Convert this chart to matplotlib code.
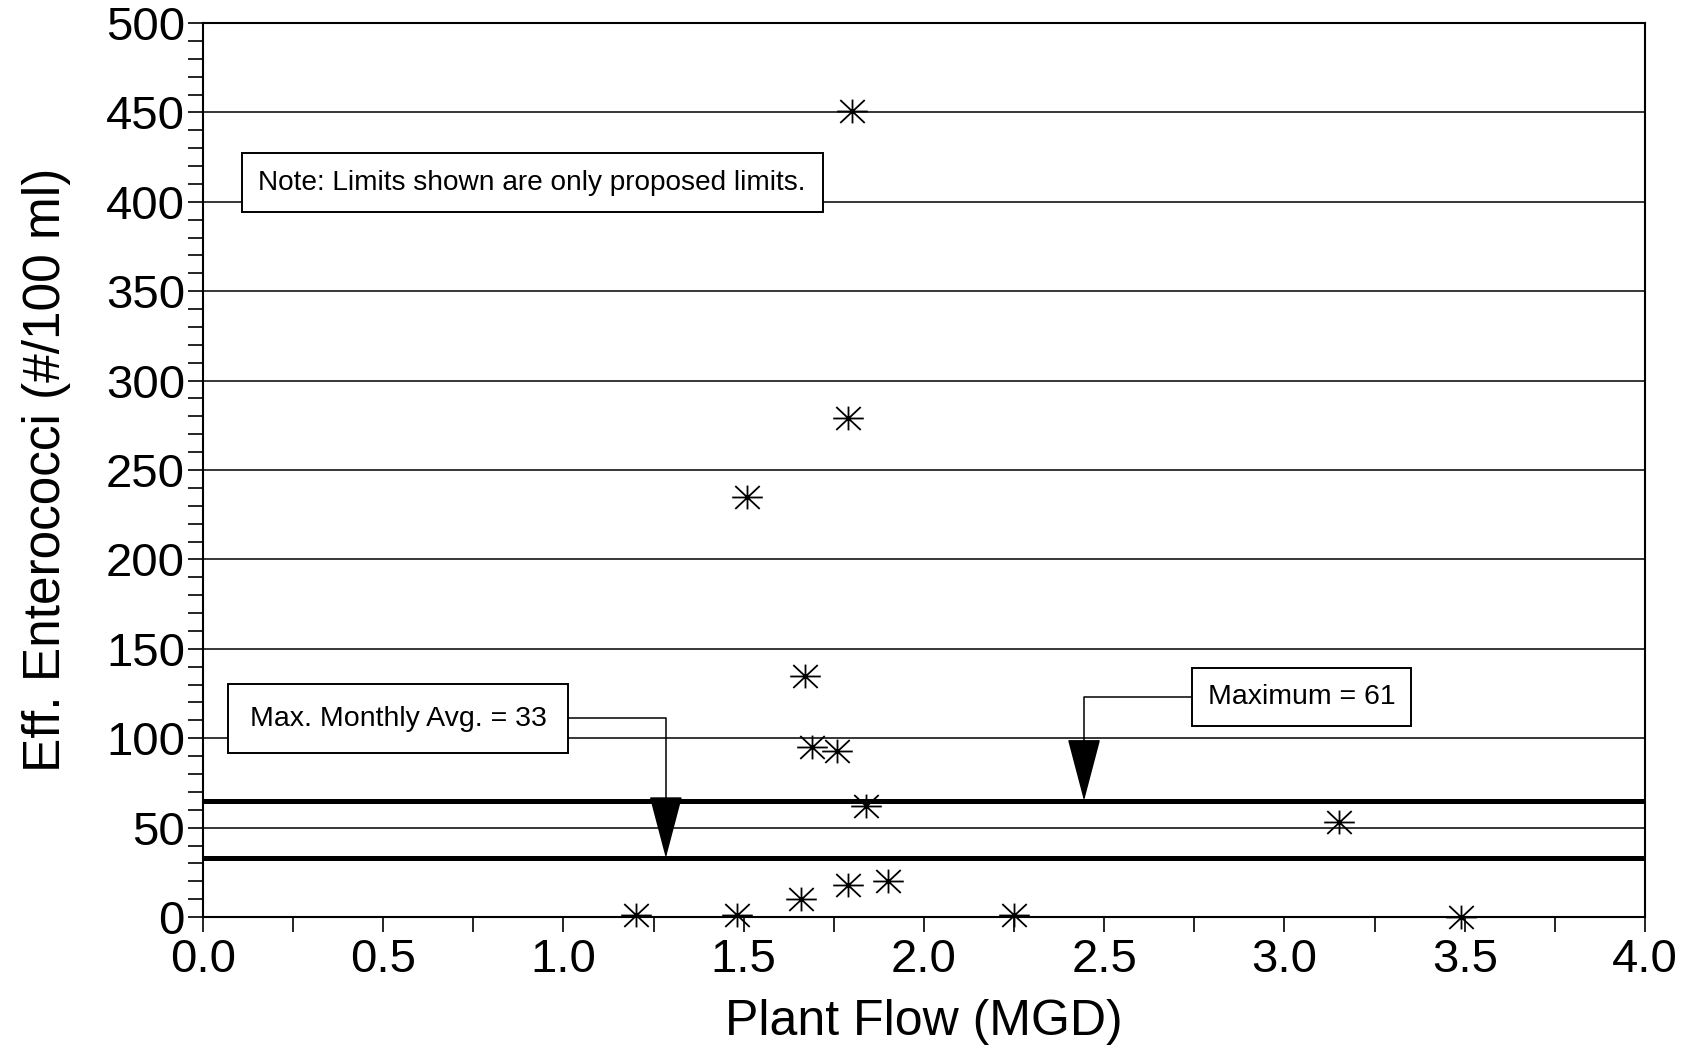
import numpy as np
import matplotlib
matplotlib.use("Agg")
import matplotlib.pyplot as plt
from matplotlib.ticker import MultipleLocator, FormatStrFormatter
from matplotlib.path import Path

plt.rcParams['font.family'] = ['Liberation Sans', 'DejaVu Sans']

# Données
flow = [1.20, 1.48, 1.66, 1.79, 1.90, 1.84, 1.69, 1.76, 1.67, 1.51, 1.79, 1.80, 2.25, 3.15, 3.49]
entero = [1, 1, 10, 18, 20, 62, 95, 93, 135, 235, 279, 451, 1, 53, 0]

# Limites proposées (position tracée)
max_limit = 65
monthly_limit = 33
max_label = "Maximum = 61"
monthly_label = "Max. Monthly Avg. = 33"
note_label = "Note: Limits shown are only proposed limits."

# astérisque un peu plus large que haute, comme sur l'original
star = Path([(-1, 0), (1, 0), (0, -0.78), (0, 0.78),
             (-0.8, -0.75), (0.8, 0.75), (-0.8, 0.75), (0.8, -0.75)],
            [Path.MOVETO, Path.LINETO] * 4)

fig = plt.figure(figsize=(16.87, 10.46), dpi=100)
ax = fig.add_axes([0.1203, 0.1233, 0.8548, 0.8547])

# grille horizontale
for y in range(50, 500, 50):
    ax.axhline(y, color='black', lw=1.1, zorder=1)

ax.axhline(max_limit, color='black', lw=3.6, zorder=2)
ax.axhline(monthly_limit, color='black', lw=3.6, zorder=2)

ax.plot(flow, entero, linestyle='none', marker=star, ms=22,
        mew=1.3, color='black', zorder=4, clip_on=False)

fs = 20.5

ax.annotate(monthly_label, xy=(1.284, monthly_limit), xytext=(0.541, 111),
            fontsize=fs, ha='center', va='center', zorder=5,
            bbox=dict(boxstyle='square,pad=0.75', fc='white', ec='black', lw=1.4),
            arrowprops=dict(arrowstyle='-|>,head_length=2.05,head_width=0.54',
                            mutation_scale=20, fc='black', ec='black', lw=1.1,
                            connectionstyle='angle,angleA=0,angleB=90,rad=0',
                            relpos=(1, 0.53), shrinkA=0, shrinkB=0))

ax.annotate(max_label, xy=(2.444, max_limit), xytext=(3.047, 123),
            fontsize=fs, ha='center', va='center', zorder=5,
            bbox=dict(boxstyle='square,pad=0.55', fc='white', ec='black', lw=1.4),
            arrowprops=dict(arrowstyle='-|>,head_length=2.05,head_width=0.54',
                            mutation_scale=20, fc='black', ec='black', lw=1.1,
                            connectionstyle='angle,angleA=0,angleB=90,rad=0',
                            relpos=(0, 0.5), shrinkA=0, shrinkB=0))

ax.text(0.913, 410.8, note_label, fontsize=fs - 0.3, ha='center', va='center',
        bbox=dict(boxstyle='square,pad=0.6', fc='white', ec='black', lw=1.4),
        zorder=5)

ax.set_xlim(0, 4)
ax.set_ylim(0, 500)
ax.xaxis.set_major_locator(MultipleLocator(0.5))
ax.xaxis.set_minor_locator(MultipleLocator(0.25))
ax.yaxis.set_major_locator(MultipleLocator(50))
ax.yaxis.set_minor_locator(MultipleLocator(10))
ax.xaxis.set_major_formatter(FormatStrFormatter('%.1f'))

ax.tick_params(axis='both', which='both', direction='out', length=11, width=1.2,
               top=False, right=False)
ax.tick_params(axis='x', which='major', labelsize=34, pad=4)
ax.tick_params(axis='y', which='major', labelsize=34, pad=2)

for s in ax.spines.values():
    s.set_linewidth(1.5)

ax.set_xlabel('Plant Flow (MGD)', fontsize=36, labelpad=12)
ax.set_ylabel('Eff. Enterococci (#/100 ml)', fontsize=37, labelpad=25)

fig.savefig('out.png', dpi=100)
